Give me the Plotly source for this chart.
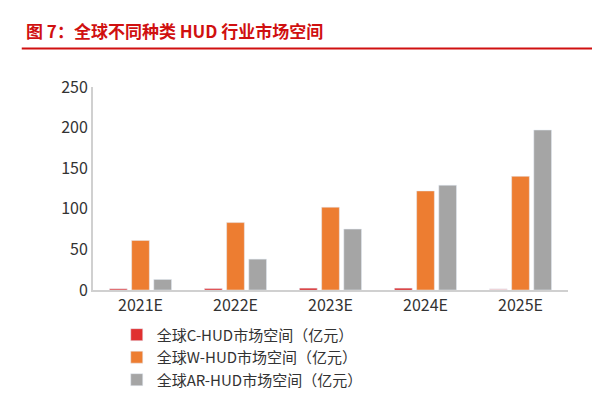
import plotly.graph_objects as go

years = ["2021E", "2022E", "2023E", "2024E", "2025E"]
c_hud = [1.5, 1.8, 2.2, 2.2, 1.5]
w_hud = [61, 83, 102, 122, 140]
ar_hud = [13, 38, 75, 129, 197]

fig = go.Figure()
fig.add_trace(go.Bar(x=years, y=c_hud, name="全球C-HUD市场空间（亿元）",
                     marker_color=["#e03030", "#e02020", "#d81010", "#d81010", "#f4c8c8"]))
fig.add_trace(go.Bar(x=years, y=w_hud, name="全球W-HUD市场空间（亿元）", marker_color="#ed7d31"))
fig.add_trace(go.Bar(x=years, y=ar_hud, name="全球AR-HUD市场空间（亿元）", marker_color="#a5a5a5"))

fig.update_layout(
    width=600, height=400,
    font=dict(family="Noto Sans CJK SC", size=16, color="#333"),
    plot_bgcolor="white", paper_bgcolor="white",
    margin=dict(l=85, r=40, t=79, b=99),
    bargap=0.3, bargroupgap=0.2,
    title=dict(text="<b>图 7：全球不同种类 HUD 行业市场空间</b>", x=0.03, y=0.955,
               font=dict(size=17, color="#d01010")),
    legend=dict(orientation="h", x=0.05, y=-0.14, xanchor="left", yanchor="top",
                font=dict(size=15), tracegroupgap=0,
                entrywidth=275, entrywidthmode="pixels"),
    showlegend=True,
)
fig.update_xaxes(showline=True, linecolor="#d0d0d0", linewidth=2, ticks="")
fig.update_yaxes(range=[0, 250], dtick=50, showgrid=False, showline=True,
                 linecolor="#d0d0d0", linewidth=2, ticks="", zeroline=False)
fig.add_shape(type="line", xref="paper", yref="paper", x0=-0.15, x1=1.07, y0=1.19, y1=1.19,
              line=dict(color="#d01010", width=2))
fig.write_html("out.html")
